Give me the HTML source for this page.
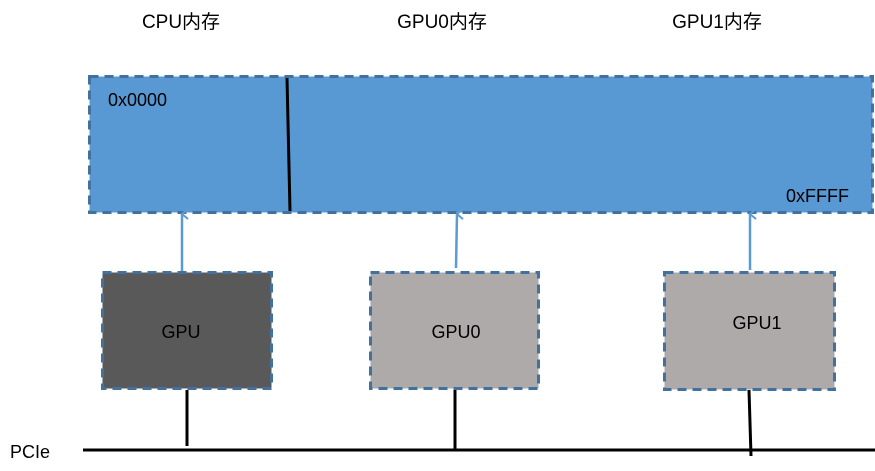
<!DOCTYPE html>
<html><head><meta charset="utf-8"><style>
html,body{margin:0;padding:0;background:#fff;}
svg{display:block;}
text{font-family:"Liberation Sans","Noto Sans CJK SC",sans-serif;fill:#000;}
</style></head><body>
<svg width="875" height="471" viewBox="0 0 875 471" xmlns="http://www.w3.org/2000/svg">
<defs>
<marker id="ah" markerWidth="12" markerHeight="10" refX="6" refY="1" orient="auto" markerUnits="userSpaceOnUse">
<path d="M1,7 L6,1 L11,7" fill="none" stroke="#5b9bd5" stroke-width="2"/>
</marker>
</defs>
<text x="181" y="28" font-size="19" text-anchor="middle">CPU内存</text>
<text x="442" y="28" font-size="19" text-anchor="middle">GPU0内存</text>
<text x="717" y="28" font-size="19" text-anchor="middle">GPU1内存</text>

<rect x="89.5" y="76.5" width="783" height="136" fill="#5999d3" stroke="#41719c" stroke-width="3" stroke-dasharray="9,6"/>
<line x1="287" y1="78" x2="290" y2="211" stroke="#000" stroke-width="3"/>
<text x="108" y="106" font-size="18">0x0000</text>
<text x="786" y="202" font-size="18">0xFFFF</text>

<line x1="182" y1="271" x2="182" y2="214" stroke="#5b9bd5" stroke-width="2.5" marker-end="url(#ah)"/>
<line x1="456" y1="268" x2="457" y2="214" stroke="#5b9bd5" stroke-width="2.5" marker-end="url(#ah)"/>
<line x1="750" y1="270" x2="750" y2="214" stroke="#5b9bd5" stroke-width="2.5" marker-end="url(#ah)"/>

<rect x="102.5" y="272.5" width="169" height="116" fill="#595959" stroke="#41719c" stroke-width="3" stroke-dasharray="9,6"/>
<rect x="370.5" y="272.5" width="168" height="116" fill="#aeaaaa" stroke="#41719c" stroke-width="3" stroke-dasharray="9,6"/>
<rect x="664.5" y="272.5" width="170" height="117" fill="#aeaaaa" stroke="#41719c" stroke-width="3" stroke-dasharray="9,6"/>
<text x="181" y="338" font-size="18" text-anchor="middle">GPU</text>
<text x="456" y="338" font-size="18" text-anchor="middle">GPU0</text>
<text x="757" y="329" font-size="18" text-anchor="middle">GPU1</text>

<line x1="83" y1="450" x2="875" y2="450" stroke="#000" stroke-width="3"/>
<line x1="187" y1="390" x2="187" y2="446" stroke="#000" stroke-width="3"/>
<line x1="455" y1="390" x2="455" y2="450" stroke="#000" stroke-width="3"/>
<line x1="749" y1="390" x2="751" y2="456" stroke="#000" stroke-width="3"/>
<text x="10" y="458" font-size="18">PCIe</text>
</svg>
</body></html>
